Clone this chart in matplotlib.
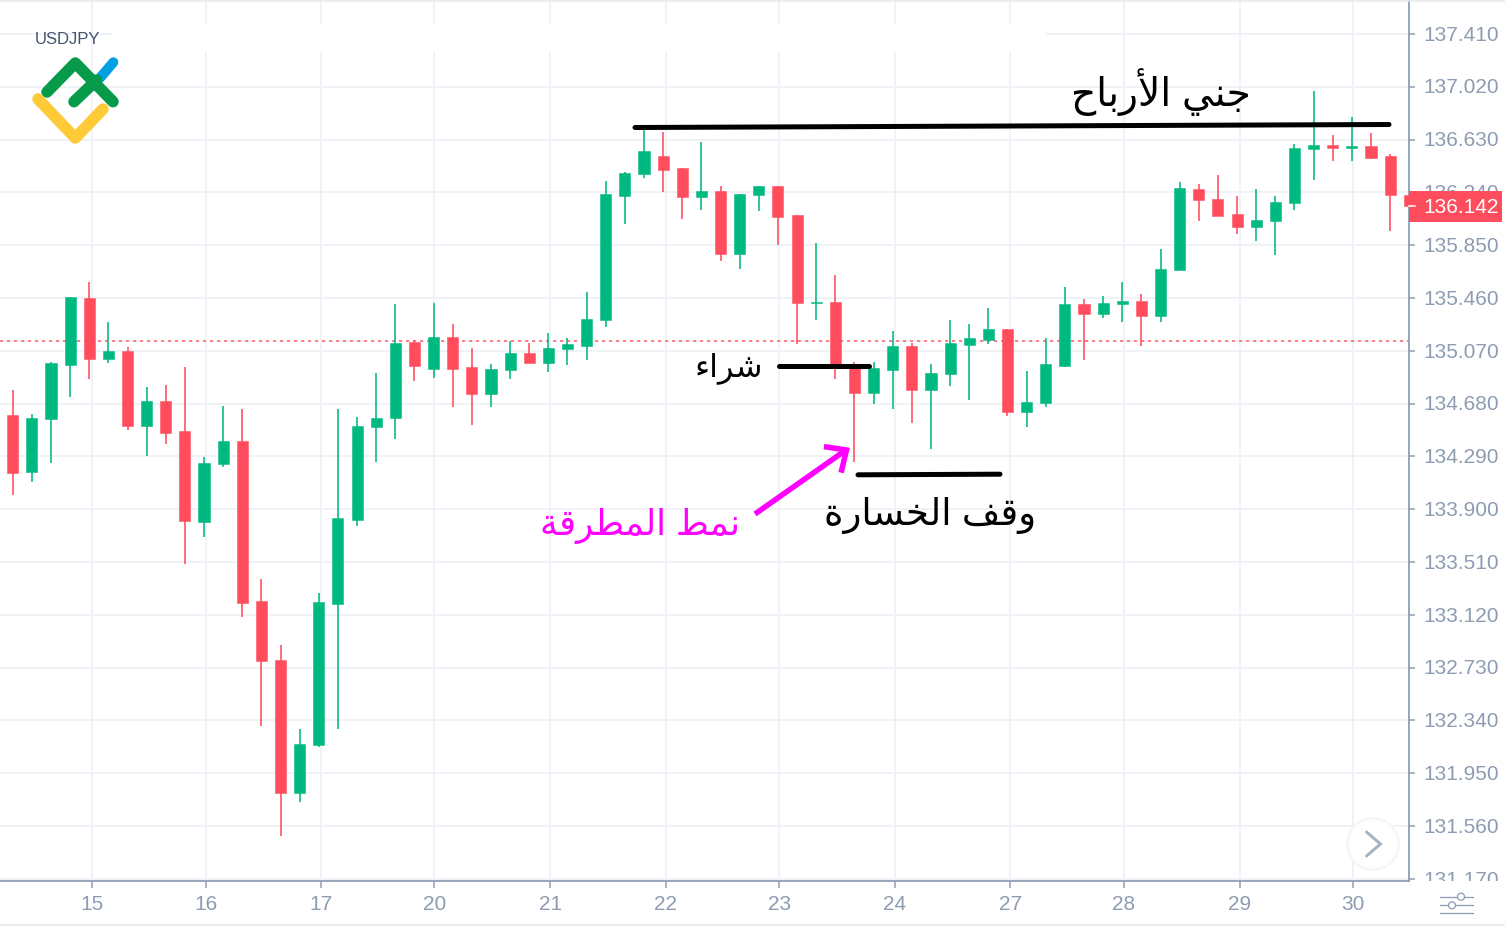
from matplotlib import pyplot as plt
from matplotlib.patches import Circle, Rectangle
from matplotlib.transforms import Bbox, ScaledTranslation

# daily candles, index 0 is the one cut by the left edge
opens = [134.145, 134.596, 134.175, 134.567, 134.965, 135.462, 135.007, 135.068, 134.515, 134.697,
         134.476, 133.804, 134.234, 134.406, 133.220, 132.789, 131.802, 132.159, 133.200, 133.820,
         134.505, 134.572, 135.137, 134.938, 135.172, 134.948, 134.751, 134.928, 135.056, 134.980,
         135.081, 135.108, 135.295, 136.216, 136.378, 136.509, 136.420, 136.204, 136.250, 135.787,
         136.221, 136.287, 136.073, 135.423, 135.433, 134.965, 134.757, 134.928, 135.108, 134.783,
         134.901, 135.113, 135.150, 135.233, 134.618, 134.683, 134.959, 135.413, 135.339, 135.413,
         135.440, 135.327, 135.665, 136.263, 136.193, 136.078, 135.985, 136.029, 136.164, 136.561,
         136.588, 136.568, 136.585, 136.509, 136.221]
highs = [134.618, 134.781, 134.601, 134.989, 135.467, 135.580, 135.285, 135.100, 134.805, 134.818,
         134.948, 134.288, 134.665, 134.638, 133.387, 132.895, 132.275, 133.284, 134.638, 134.584,
         134.909, 135.413, 135.149, 135.425, 135.270, 135.088, 134.973, 135.145, 135.130, 135.204,
         135.165, 135.502, 136.326, 136.391, 136.716, 136.688, 136.420, 136.612, 136.289, 136.228,
         136.287, 136.287, 136.073, 135.864, 135.630, 134.985, 134.987, 135.218, 135.130, 134.973,
         135.298, 135.270, 135.388, 135.233, 134.923, 135.167, 135.543, 135.450, 135.475, 135.580,
         135.489, 135.824, 136.317, 136.302, 136.368, 136.213, 136.265, 136.213, 136.597, 136.989,
         136.664, 136.795, 136.677, 136.522, 136.221]
lows = [134.116, 134.005, 134.101, 134.242, 134.731, 134.860, 134.977, 134.485, 134.293, 134.382,
        133.493, 133.697, 134.214, 133.107, 132.301, 131.489, 131.736, 132.146, 132.279, 133.776,
        134.251, 134.421, 134.847, 134.872, 134.653, 134.522, 134.653, 134.860, 134.982, 134.911,
        134.963, 135.002, 135.248, 136.009, 136.344, 136.241, 136.046, 136.112, 135.736, 135.672,
        136.100, 135.854, 135.118, 135.298, 134.860, 134.251, 134.677, 134.638, 134.535, 134.343,
        134.808, 134.705, 135.118, 134.589, 134.510, 134.653, 134.948, 135.002, 135.310, 135.285,
        135.105, 135.285, 135.665, 136.031, 136.068, 135.931, 135.879, 135.778, 136.112, 136.332,
        136.474, 136.474, 136.485, 135.955, 136.142]
closes = [134.596, 134.170, 134.576, 134.977, 135.465, 135.007, 135.068, 134.513, 134.697, 134.465,
          133.813, 134.244, 134.406, 133.210, 132.779, 131.802, 132.168, 133.217, 133.838, 134.515,
          134.576, 135.129, 134.959, 135.172, 134.938, 134.751, 134.936, 135.056, 134.982, 135.093,
          135.118, 135.307, 136.228, 136.385, 136.546, 136.403, 136.204, 136.250, 135.787, 136.228,
          136.287, 136.061, 135.421, 135.434, 134.958, 134.757, 134.945, 135.108, 134.781, 134.909,
          135.127, 135.162, 135.233, 134.616, 134.694, 134.973, 135.416, 135.339, 135.425, 135.440,
          135.327, 135.676, 136.270, 136.186, 136.068, 135.985, 136.039, 136.171, 136.568, 136.590,
          136.568, 136.585, 136.496, 136.219, 136.142]

price_ticks = [131.170, 131.560, 131.950, 132.340, 132.730, 133.120, 133.510, 133.900, 134.290, 134.680,
               135.070, 135.460, 135.850, 136.240, 136.630, 137.020, 137.410]
day_labels = ['15', '16', '17', '20', '21', '22', '23', '24', '27', '28', '29', '30']
day_ticks = [5.13, 11.09, 17.10, 23.04, 29.10, 35.13, 41.07, 47.12, 53.15, 59.09, 65.14, 71.08]
last_price = 136.142
dotted_price = 135.143

symbol = 'USDJPY'
profit_text = 'جني الأرباح'
buy_text = 'شراء'
stop_text = 'وقف الخسارة'
pattern_text = 'نمط المطرقة'

GREEN = '#00b981'
RED = '#ff4d5d'
GRID = '#eff3f7'
AXIS = '#8e9fb4'
LABEL = '#8d9cb1'

W, H = 1505, 926
PX = 0.72  # one pixel in points at dpi 100

# matplotlib does not join arabic letters, so pick the presentation forms here
DUAL = {'ب': 0xFE8F, 'ج': 0xFE9D, 'ح': 0xFEA1, 'خ': 0xFEA5, 'س': 0xFEB1, 'ش': 0xFEB5, 'ط': 0xFEC1,
        'ف': 0xFED1, 'ق': 0xFED5, 'ل': 0xFEDD, 'م': 0xFEE1, 'ن': 0xFEE5, 'ي': 0xFEF1}
RIGHT = {'ا': 0xFE8D, 'ر': 0xFEAD, 'و': 0xFEED, 'ة': 0xFE93}


def shape_arabic(text):
    out = []
    prev_joins = False
    i = 0
    while i < len(text):
        ch = text[i]
        nxt = text[i + 1] if i + 1 < len(text) else ' '
        if ch == 'ل' and nxt == 'أ':
            out.append(chr(0xFEF8 if prev_joins else 0xFEF7))
            prev_joins = False
            i += 2
            continue
        if ch in DUAL:
            next_joins = nxt in DUAL or nxt in RIGHT
            if prev_joins:
                offset = 3 if next_joins else 1
            else:
                offset = 2 if next_joins else 0
            out.append(chr(DUAL[ch] + offset))
            prev_joins = next_joins
        elif ch in RIGHT:
            out.append(chr(RIGHT[ch] + (1 if prev_joins else 0)))
            prev_joins = False
        elif ch == 'ء':
            out.append(chr(0xFE80))
            prev_joins = False
        else:
            out.append(ch)
            prev_joins = False
        i += 1
    return ''.join(reversed(out))


def draw_candles(ax):
    xs = range(len(opens))
    colors = [GREEN if c >= o else RED for o, c in zip(opens, closes)]
    bottoms = [min(o, c) for o, c in zip(opens, closes)]
    heights = [abs(c - o) for o, c in zip(opens, closes)]
    ax.vlines(xs, lows, highs, colors=colors, linewidth=1.6 * PX, zorder=3)
    ax.bar(xs, heights, width=0.58, bottom=bottoms, color=colors, edgecolor=colors,
           linewidth=0.5 * PX, zorder=4)


def setup_axes(fig):
    ax = fig.add_axes([0, (H - 881) / H, 1409 / W, 881 / H])
    ax.set_xlim((0 + 6.4) / 19.13, (1409 + 6.4) / 19.13)
    ax.set_ylim(131.154, 137.661)
    ax.set_axisbelow(True)
    ax.grid(True, color=GRID, linewidth=2 * PX)
    for side in ['top', 'left']:
        ax.spines[side].set_visible(False)
    for side in ['right', 'bottom']:
        ax.spines[side].set_color(AXIS)
        ax.spines[side].set_linewidth(1.8 * PX)
    ax.yaxis.tick_right()
    ax.set_yticks(price_ticks)
    ax.set_yticklabels(['%.3f' % p for p in price_ticks])
    ax.set_xticks(day_ticks)
    ax.set_xticklabels(day_labels)
    ax.tick_params(axis='y', length=6 * PX, width=1.5 * PX, color=AXIS, labelcolor=LABEL,
                   labelsize=15, pad=8 * PX)
    ax.tick_params(axis='x', length=7 * PX, width=1.5 * PX, color=AXIS, labelcolor=LABEL,
                   labelsize=15, pad=6.5 * PX)
    # the lowest price label is cut by the bottom of the scale
    clip = Bbox([[1409, H - 881], [W, H]])
    nudge = ScaledTranslation(0, 0.8 / 100, fig.dpi_scale_trans)
    for label in ax.get_yticklabels():
        label.set_clip_box(clip)
        label.set_clip_on(True)
        label.set_transform(label.get_transform() + nudge)
    return ax


def draw_logo(over):
    over.plot([100, 113.3], [78, 62.3], color='#019fe3', lw=10 * PX, solid_capstyle='round', zorder=6)
    over.plot([47, 75.3, 113], [92, 63, 101.7], color='#079a4a', lw=11.5 * PX,
              solid_capstyle='round', solid_joinstyle='round', zorder=7)
    over.plot([74, 96.7], [101.7, 80], color='#079a4a', lw=11.5 * PX, solid_capstyle='round', zorder=7)
    over.plot([38, 75.3, 103], [99, 138, 109], color='#ffca38', lw=11.5 * PX,
              solid_capstyle='round', solid_joinstyle='round', zorder=7)


def draw_markup(over):
    # hand drawn lines on top of the chart
    over.plot([635, 1389], [127.5, 124.5], color='black', lw=5 * PX, solid_capstyle='round')
    over.plot([779, 869], [366.3, 366.3], color='black', lw=5 * PX, solid_capstyle='round')
    over.plot([858, 1000], [474.8, 474.2], color='black', lw=5 * PX, solid_capstyle='round')
    over.plot([755, 846], [514, 450], color='#ff00ff', lw=5.5 * PX, solid_capstyle='butt')
    over.plot([826.7, 846.5, 841.7], [447, 450, 470], color='#ff00ff', lw=5.5 * PX,
              solid_joinstyle='miter')
    over.text(1161, 92, shape_arabic(profit_text), ha='center', va='center', fontsize=28.2, color='black')
    over.text(728.5, 368, shape_arabic(buy_text), ha='center', va='center', fontsize=23, color='black')
    over.text(930, 516, shape_arabic(stop_text), ha='center', va='center', fontsize=26.7, color='black')
    over.text(640, 526, shape_arabic(pattern_text), ha='center', va='center', fontsize=25.7, color='#ff00ff')


def draw_widgets(over):
    # price flag
    over.add_patch(Rectangle((1409, 191), 93, 31, color='#ff4d5d', lw=0, zorder=5))
    over.plot([1409, 1415], [206, 206], color='white', lw=1.5 * PX, zorder=6)
    over.text(1423, 205.3, '%.3f' % last_price, color='white', fontsize=15, ha='left',
              va='center_baseline', zorder=6)
    # scroll button
    for r, c in [(27, '#f8f8f8'), (26, '#f5f5f5'), (25, '#fafafa'), (24, 'white')]:
        over.add_patch(Circle((1373, 844), r, color=c, lw=0, zorder=5))
    over.plot([1366.5, 1380.5, 1366.5], [832, 844, 856], color='#a4b2c4', lw=3 * PX,
              solid_capstyle='round', solid_joinstyle='miter', zorder=6)
    # settings icon
    for y in [896.7, 905.3, 913.3]:
        over.plot([1440, 1472.7], [y, y], color=AXIS, lw=1.3 * PX)
    for x, y in [(1461, 896.7), (1452, 905.3)]:
        over.add_patch(Circle((x, y), 3.5, facecolor='white', edgecolor=AXIS, lw=1.3 * PX, zorder=5))
    # faint frame lines of the widget
    over.plot([0, W], [0.5, 0.5], color='#e6e8ea', lw=1.5 * PX)
    over.plot([0, W], [925, 925], color='#e6e8ea', lw=1.5 * PX)


def main():
    plt.rcParams['font.family'] = ['Liberation Sans', 'DejaVu Sans']
    fig = plt.figure(figsize=(W / 100, H / 100), dpi=100)
    ax = setup_axes(fig)
    ax.axhline(dotted_price, color='#ff7f8b', lw=2 * PX, dashes=(1.6, 1.9), zorder=2)
    draw_candles(ax)

    over = fig.add_axes([0, 0, 1, 1], facecolor='none')
    over.set_xlim(0, W)
    over.set_ylim(H, 0)
    over.axis('off')
    # legend backdrop that hides the grid near the top
    over.add_patch(Rectangle((113, 25), 933, 27, color='white', lw=0, zorder=1))
    over.text(35, 39, symbol, color='#44546f', fontsize=12, ha='left', va='center')
    draw_logo(over)
    draw_markup(over)
    draw_widgets(over)

    fig.savefig('out.png', dpi=100)


if __name__ == '__main__':
    main()
